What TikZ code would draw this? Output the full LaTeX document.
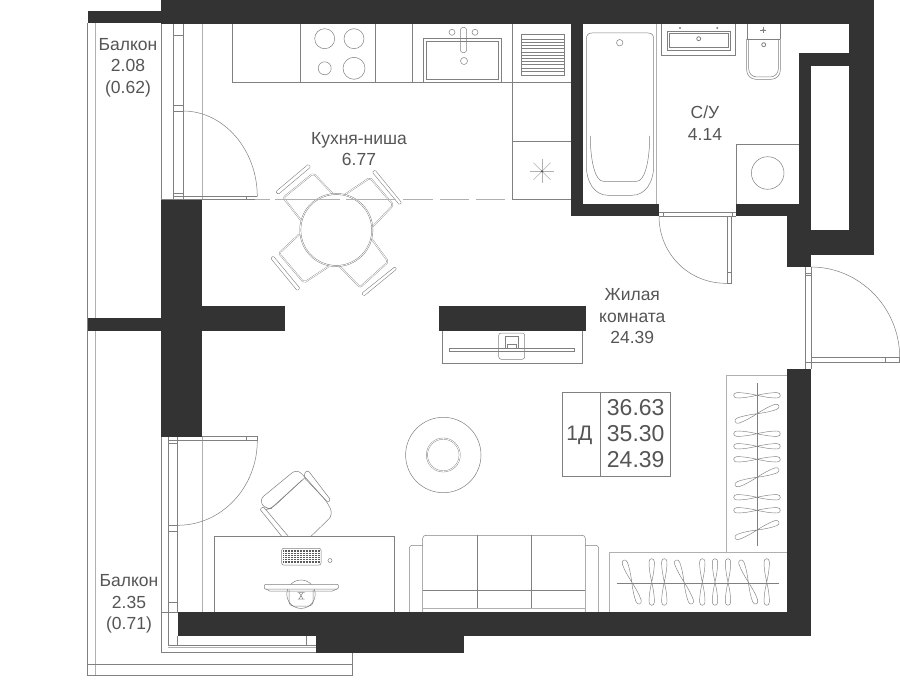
\documentclass[tikz,border=0pt]{standalone}
\usepackage{fontspec}
\setmainfont{Liberation Sans}
\definecolor{wallc}{HTML}{333333}
\definecolor{linec}{HTML}{808080}
\definecolor{softc}{HTML}{B0B0B0}
\definecolor{textc}{HTML}{555555}
\tikzset{
 wall/.style={fill=wallc},
 ln/.style={draw=linec,line width=0.5pt},
 soft/.style={draw=softc,line width=0.8pt},
 dbl/.style={draw=linec,line width=0.35pt,double=white,double distance=0.8pt,rounded corners=2pt},
 lbl/.style={font=\fontsize{17.5}{21.5}\selectfont,text=textc,align=center,inner sep=0pt},
 big/.style={font=\fontsize{23}{26}\selectfont,text=textc,inner sep=0pt},
 hanger/.pic={\draw[ln,line width=0.45pt] (0,0) .. controls (8,-1.8) and (14,-2.7) .. (20,-2.7) .. controls (24.4,-2.7) and (24.4,2.7) .. (20,2.7) .. controls (14,2.7) and (8,1.8) .. (0,0) .. controls (-8,-1.8) and (-14,-2.7) .. (-20,-2.7) .. controls (-24.4,-2.7) and (-24.4,2.7) .. (-20,2.7) .. controls (-14,2.7) and (-8,1.8) .. (0,0);}
}
\begin{document}
\begin{tikzpicture}[x=1pt,y=-1pt]
\useasboundingbox (0,0) rectangle (900,695);
\fill[white] (0,0) rectangle (900,695);
% balcony
\draw[ln] (87.5,23) -- (87.5,675) -- (352.5,675) -- (352.5,652.7) -- (161,652.7) -- (161,437);
\draw[soft] (95.7,23) -- (95.7,675);
\draw[ln] (87.5,664.3) -- (352.5,664.3);
\draw[ln] (161,23) -- (161,200);
% upper window + door
\draw[ln] (173.7,24) -- (173.7,200) (183,24) -- (183,200);
\draw[soft] (202,24) -- (202,200);
\draw[ln] (173.7,35) -- (183,35) (173.7,105) -- (183,105) (173.7,111) -- (183,111) (173.7,193) -- (183,193);
\draw[ln] (173.7,196.5) -- (257.3,196.5) (246.3,196.5) -- (246.3,199.5);
\draw[ln] (183,111) .. controls (224,111) and (257.3,150) .. (257.3,196.5);
\draw[ln] (161,199.7) -- (257.3,199.7);
% kitchen
\draw[ln] (232.3,24) -- (232.3,82.5) -- (571,82.5);
\draw[ln] (300.7,24) -- (300.7,82.5) (375.3,24) -- (375.3,82.5) (412.3,24) -- (412.3,82.5);
\draw[ln] (512.3,24) -- (512.3,199.7) -- (571,199.7) (512.3,141) -- (571,141);
\draw[ln] (324.7,38.7) circle (10) (354,38.7) circle (10) (324.7,68.3) circle (6.5) (354,68.3) circle (11);
\draw[ln] (423.3,82.5) -- (423.3,38.7) -- (501.3,38.7) -- (501.3,82.5);
\draw[ln] (426.3,79.3) -- (426.3,41.7) -- (498,41.7) -- (498,79.3) -- cycle;
\draw[ln,rounded corners=3pt] (460.3,27.3) rectangle (466.7,52.7);
\draw[ln] (452,32.3) circle (3) (475,32.3) circle (3) (464,61) circle (3.5);
\draw[ln] (521.7,34.7) rectangle (564.3,75.7);
\foreach \yy in {39.3,42.5,...,72} {\draw[linec,line width=1pt] (522,\yy) -- (564,\yy);}
\foreach \aa in {0,45,...,315} {\draw[softc,line width=0.6pt] (542,171.3) -- ++(\aa:12);}
\fill[linec!60!black] (542,171.3) circle (1.2);
% bath room
\draw[soft] (656.7,24) -- (656.7,204) (583,204) -- (659,204);
\draw[ln] (592,33) -- (648,33) .. controls (652,33) and (653.7,35) .. (653.7,40) -- (653.7,165) .. controls (653.7,183) and (645,195.3) .. (632,195.3) -- (608,195.3) .. controls (595,195.3) and (586.3,183) .. (586.3,165) -- (586.3,40) .. controls (586.3,35) and (588,33) .. (592,33) -- cycle;
\draw[ln] (590.3,136) .. controls (590.3,160) and (595,181.3) .. (603.3,181.3) -- (636.7,181.3) .. controls (645,181.3) and (649.7,160) .. (649.7,136);
\draw[ln] (619.7,42.7) circle (3.2);
\draw[ln] (661.7,24) -- (661.7,55.3) -- (735.7,55.3) -- (735.7,24);
\draw[ln] (667.3,31.3) rectangle (730,50);
\draw[ln] (669.5,33.5) rectangle (728,47.5);
\fill[linec] (680,28) circle (1.1) (717.3,28) circle (1.1);
\draw[ln,line width=0.8pt] (698.7,38.7) circle (2);
\draw[ln,rounded corners=9pt] (746.7,39) -- (746.7,79.3) -- (780.3,79.3) -- (780.3,39);
\draw[ln,rounded corners=8pt] (748.7,39) -- (748.7,77) -- (778.3,77) -- (778.3,39);
\draw[ln] (747.3,39) -- (780,39);
\draw[ln] (747.3,39) -- (747.3,24) (780,39) -- (780,24);
\draw[ln,line width=0.8pt] (763.7,44.7) circle (2);
\fill[linec] (763.3,30) circle (1.2);
\draw[ln] (760.3,30) -- (766.3,30) (763.3,27) -- (763.3,33);
\draw[ln] (736.3,144.3) rectangle (799,204);
\draw[ln] (767.7,173) circle (16.3);
% bath door
\draw[ln] (659,212) -- (736,212) (663,212) -- (663,216) (732,212) -- (732,216);
\draw[ln] (659,216) -- (736,216);
\draw[ln] (727.3,216) -- (727.3,283.3) -- (731.7,283.3) -- (731.7,216) (727.3,272.7) -- (731.7,272.7);
\draw[ln] (659,216) .. controls (659,254) and (689,284) .. (727.3,283.3);
% entry door
\draw[ln] (805.5,267) -- (805.5,369) (811,267) -- (811,369);
\draw[ln] (805.5,273) -- (811,273) (805.5,275) -- (811,275) (805.5,362.3) -- (899.7,362.3) (811,357.5) -- (899.7,357.5) -- (899.7,362.3) (885.7,357.5) -- (885.7,362.3);
\draw[ln] (811,267) .. controls (860,267) and (899.7,308) .. (899.7,357.5);
% lower left window + door
\draw[ln] (168.3,437) -- (168.3,645) (177.7,437) -- (177.7,612) (177.7,636) -- (177.7,645);
\draw[soft] (202,437) -- (202,612);
\draw[ln] (161,612) -- (178,612);
\draw[ln] (168.3,436.5) -- (257.3,436.5) -- (257.3,440.7) -- (168.3,440.7) (246.3,436.5) -- (246.3,440.7) (168.3,443.3) -- (177.7,443.3) (168.3,525.3) -- (177.7,525.3) (168.3,531) -- (177.7,531) (168.3,602.7) -- (177.7,602.7);
\draw[ln] (257.3,440.7) .. controls (257.3,487) and (222,525.3) .. (177.7,525.3);
\draw[ln] (168.3,645) -- (316,645) (306.3,636) -- (306.3,645);
\draw[soft] (168.3,647) -- (316,647);
% walls
\fill[wall] (161,0) rectangle (874,24);
\fill[wall] (87.5,11) rectangle (161,23);
\fill[wall] (849,24) rectangle (874,255);
\fill[wall] (799,53) rectangle (849,66);
\fill[wall] (799,53) rectangle (811,216);
\fill[wall] (787,230) rectangle (874,255);
\fill[wall] (787,216) rectangle (811,267);
\fill[wall] (736,204) rectangle (811,216);
\fill[wall] (571,204) rectangle (659,216);
\fill[wall] (571,24) rectangle (583,216);
\fill[wall] (161,200) rectangle (202,437);
\fill[wall] (202,306) rectangle (285,331);
\fill[wall] (87.5,318) rectangle (161,331);
\fill[wall] (178,612) rectangle (811,636);
\fill[wall] (315.7,636) rectangle (464,653);
\fill[wall] (787,369) rectangle (811,636);
\fill[wall] (439.3,306.3) rectangle (586,331);
% dining chairs
\foreach \pa/\pb/\pc/\pd in {
 {(270.7,258.3)}/{(273.3,256)}/{(300,288.3)}/{(297.3,290.7)},
 {(395,266.7)}/{(396.7,269)}/{(364,296)}/{(361.7,293.3)},
 {(275.7,191.7)}/{(308.3,164.3)}/{(310.7,167)}/{(278.3,194.3)},
 {(375,170)}/{(401.7,202.7)}/{(399.3,204.7)}/{(372.3,172.3)}} {
 \draw[ln,line width=0.4pt,rounded corners=1pt] \pa -- \pb -- \pc -- \pd -- cycle;
}
\draw[dbl] (299.3,234.3) -- (279,253.3) -- (304,282.7) -- (328.3,266.7);
\draw[dbl] (371.7,239) -- (388.3,261.7) -- (360,287.3) -- (340,266.7);
\draw[dbl] (332.7,193.7) -- (313.3,173.3) -- (283.3,197.7) -- (300.7,220);
\draw[dbl] (344.3,195) -- (370,177.7) -- (393.3,205) -- (372.7,226.7);
\draw[draw=softc!70!black,line width=0.45pt,double=white,double distance=0.7pt,fill=white] (336.3,230) circle (36);
% zone line over the furniture
\draw[soft,line width=0.7pt] (255,199.7) -- (270,199.7) (275,199.7) -- (340,199.7) (346,199.7) -- (396,199.7) (403,199.7) -- (433,199.7) (440,199.7) -- (469,199.7) (476,199.7) -- (505,199.7);
% TV
\draw[ln] (442,331) -- (442,363.7) -- (582,363.7) -- (582,331);
\draw[ln,fill=white] (449,348.3) rectangle (574.3,351.3);
\draw[ln] (467,348) -- (556.7,348);
\draw[ln,rounded corners=2.5pt] (498.7,333) rectangle (524.7,359.3);
\draw[ln] (505,348) -- (505,336) -- (518,336) -- (518,348) (507,348) -- (507,344) -- (516,344) -- (516,348);
% label box
\draw[ln] (562.7,392.7) rectangle (670.7,476.3) (600.7,392.7) -- (600.7,476.3);
% rug
\draw[ln] (443.3,455) circle (37.7);
\draw[draw=linec,line width=0.4pt,double=white,double distance=0.8pt] (443.3,455) circle (16.4);
% desk
\draw[ln] (214,612) -- (214,536.3) -- (394.7,536.3) -- (394.7,612);
\draw[ln,rounded corners=2pt] (281.7,548.3) rectangle (321,565);
\foreach \yy in {551,553.2,...,562} {\draw[linec!70!black,line width=1.3pt,dash pattern=on 1pt off 0.5pt] (283,\yy) -- (320,\yy);}
\draw[ln] (330,560.5) circle (2);
\draw[ln] (301,594.2) circle (14.2);
\draw[ln,rounded corners=4pt] (289,590) -- (289,606) -- (313,606) -- (313,590);
\draw[ln,fill=white,rounded corners=1pt] (264.3,584.3) rectangle (338.3,589);
\draw[ln] (266,589) -- (270,591.2) -- (332,591.2) -- (337,589);
\draw[ln] (297.5,592.5) -- (304.5,592.5) (297.5,599) -- (304.5,599) (299,592.5) -- (303,599) (303,592.5) -- (299,599);
% office chair
\draw[ln,rounded corners=1.5pt] (305,471.7) -- (308.3,470.7) -- (330.7,500) -- (327.7,502.3) -- (304.3,477.7) -- cycle;
\draw[ln,rounded corners=1pt] (281.7,536.3) -- (260,509.3) -- (263.3,506.7) -- (288.3,536.3);
\draw[ln,rounded corners=6pt] (311,536.3) -- (333,515) -- (328,503) -- (305,477) -- (296.7,469) -- (259,500) -- (266,509.5) -- (272,508.3) -- (302,480);
\draw[ln] (271,508.3) -- (305,477.7);
% sofa
\draw[ln,rounded corners=3pt] (409.3,612) -- (409.3,545.3) -- (422.7,545.3);
\draw[ln,rounded corners=3pt] (422.7,612) -- (422.7,535.3) -- (585.3,535.3) -- (585.3,612);
\draw[ln,rounded corners=3pt] (585.3,545.3) -- (598.7,545.3) -- (598.7,612);
\draw[ln] (477.3,535.3) -- (477.3,608.7) (531.3,535.3) -- (531.3,608.7) (422.7,590.3) -- (585.3,590.3);
\draw[soft] (422.7,608.7) -- (585.3,608.7);
% closets
\draw[soft] (726.3,552) -- (726.3,375) -- (787,375) (609.3,612) -- (609.3,552) -- (787,552);
\draw[ln] (757.3,383) -- (757.3,545.7) (616.7,583) -- (779,583);
\foreach \yy in {395.3,433.7,446.3,459.3,497.3,510.3} {\pic at (757,\yy) {hanger};}
\foreach \yy in {413.7,477.3,530} {\pic[rotate=20] at (757,\yy) {hanger};}
\foreach \xx in {651.7,664.3,702.3,715,728,766.7} {\pic[rotate=90] at (\xx,582) {hanger};}
\foreach \xx in {631.7,684,748.3} {\pic[rotate=-70] at (\xx,582) {hanger};}
% texts
\node[lbl] (b1) at (128,67.5) {Балкон\\2.08\\(0.62)};
\node[lbl] (b2) at (129,604) {Балкон\\2.35\\(0.71)};
\node[lbl] (k) at (359,149) {Кухня-ниша\\6.77};
\node[lbl] (su) at (705,123) {С/У\\4.14};
\node[lbl] (zk) at (632.3,316.5) {Жилая\\комната\\24.39};
\node[big,font=\fontsize{21}{24}\selectfont] (t0) at (579.3,435) {1Д};
\node[big] (t1) at (635.7,407.7) {36.63};
\node[big] (t2) at (635.7,433.7) {35.30};
\node[big] (t3) at (635.7,460) {24.39};
\end{tikzpicture}
\end{document}
